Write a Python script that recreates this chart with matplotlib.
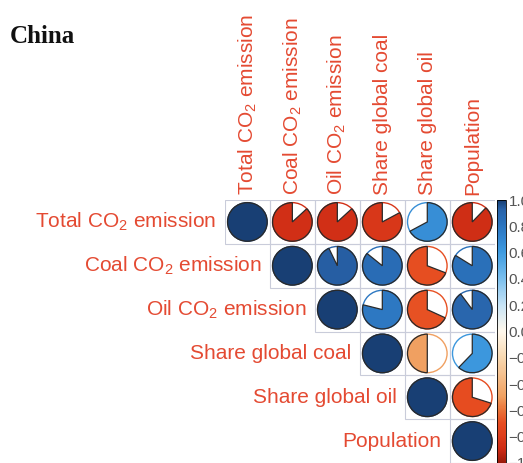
import numpy as np
import matplotlib
matplotlib.use('Agg')
import matplotlib.pyplot as plt
from matplotlib.patches import Wedge, Circle, Rectangle
from matplotlib.colors import LinearSegmentedColormap, Normalize
from matplotlib.colorbar import ColorbarBase

plt.rcParams['font.family'] = 'Liberation Sans'
plt.rcParams['mathtext.fontset'] = 'custom'
plt.rcParams['mathtext.rm'] = 'Liberation Sans'
plt.rcParams['mathtext.it'] = 'Liberation Sans'

# variables (same order on both axes)
labels = ['Total CO$_2$ emission', 'Coal CO$_2$ emission', 'Oil CO$_2$ emission',
          'Share global coal', 'Share global oil', 'Population']

# upper triangle of the correlation matrix, row by row
row_total = [1.00, -0.87, -0.87, -0.83, 0.67, -0.88]
row_coal = [1.00, 0.93, 0.86, -0.69, 0.84]
row_oil = [1.00, 0.79, -0.68, 0.90]
row_share_coal = [1.00, -0.50, 0.62]
row_share_oil = [1.00, -0.70]
row_pop = [1.00]
rows = [row_total, row_coal, row_oil, row_share_coal, row_share_oil, row_pop]

cbar_ticks = [1, 0.8, 0.6, 0.4, 0.2, 0, -0.2, -0.4, -0.6, -0.8, -1]

cmap = LinearSegmentedColormap.from_list('corr', [
    (0.00, '#9A1A0A'), (0.05, '#CC2A14'), (0.10, '#DE3E1C'), (0.15, '#E64C20'),
    (0.20, '#EA7238'), (0.25, '#F0A060'), (0.40, '#F8D8B0'), (0.50, '#FFF8EC'),
    (0.60, '#C8E4F6'), (0.70, '#7CC0EE'), (0.80, '#3F9CE0'), (0.85, '#3488D2'),
    (0.92, '#2A70BA'), (0.965, '#2862A8'), (1.00, '#183F74')])
norm = Normalize(-1, 1)

txt_red = '#E44A32'
n = len(labels)

fig = plt.figure(figsize=(5.23, 4.63), dpi=100)
ax = fig.add_axes([0.430, 0.0, 0.516, 0.568])
ax.set_xlim(0, n)
ax.set_ylim(n, 0)
ax.axis('off')

rad = 0.44
for i, vals in enumerate(rows):
    for k, r in enumerate(vals):
        j = i + k
        ax.add_patch(Rectangle((j, i), 1, 1, fill=False, ec='#C9CCDA', lw=0.8))
        c = cmap(norm(r))
        cx, cy = j + 0.5, i + 0.5
        ax.add_patch(Circle((cx, cy), rad, fc='white', ec=c, lw=1.0))
        # y axis is inverted, so angles are mirrored
        if r >= 0:
            w = Wedge((cx, cy), rad, 270, 270 + 360 * r, fc=c, ec='#2a2a2a', lw=0.9)
        else:
            w = Wedge((cx, cy), rad, 270 - 360 * abs(r), 270, fc=c, ec='#2a2a2a', lw=0.9)
        ax.add_patch(w)
    ax.text(i - 0.18, i + 0.5, labels[i], ha='right', va='center',
            fontsize=15, color=txt_red)
    ax.text(i + 0.5, -0.12, labels[i], ha='center', va='bottom', rotation=90,
            fontsize=15, color=txt_red)

cax = fig.add_axes([0.951, 0.0, 0.016, 0.568])
cb = ColorbarBase(cax, cmap=cmap, norm=norm, ticks=cbar_ticks)
cb.outline.set_linewidth(0.6)
cax.tick_params(length=0, labelsize=11, labelcolor='#555555', pad=2)

fig.text(0.019, 0.908, 'China', fontsize=18, fontweight='bold',
         family='Liberation Serif', color='#111111')

fig.savefig('out.png', dpi=100)
